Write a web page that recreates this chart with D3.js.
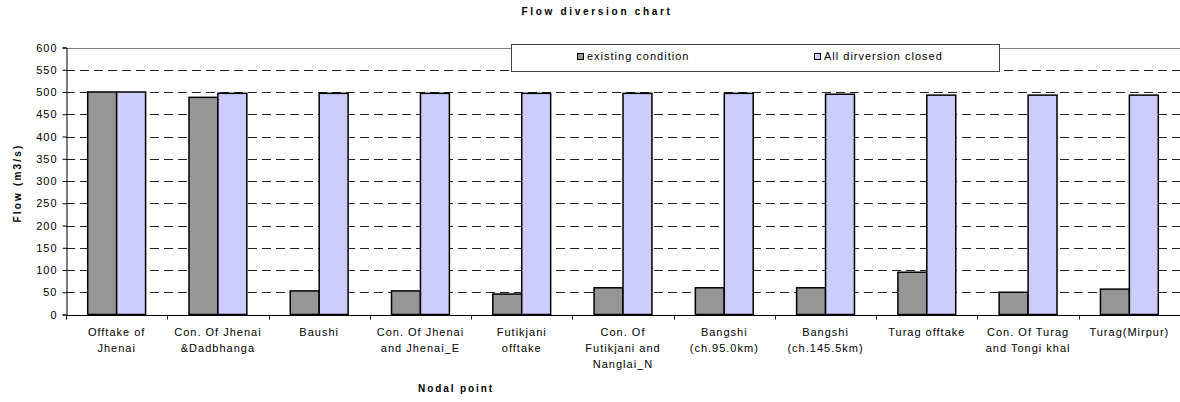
<!DOCTYPE html>
<html>
<head>
<meta charset="utf-8">
<script src="https://cdn.jsdelivr.net/npm/d3@7"></script>
<style>
  body { margin: 0; background: #fff; }
  svg { display: block; font-family: "Liberation Sans", Arial, sans-serif; }
</style>
</head>
<body>
<svg id="chart" width="1180" height="402"></svg>
<script>
// categories, one entry per line of the wrapped tick label
var nodes = [
  ["Offtake of", "Jhenai"],
  ["Con. Of Jhenai", "&Dadbhanga"],
  ["Baushi"],
  ["Con. Of Jhenai", "and Jhenai_E"],
  ["Futikjani", "offtake"],
  ["Con. Of", "Futikjani and", "Nanglai_N"],
  ["Bangshi", "(ch.95.0km)"],
  ["Bangshi", "(ch.145.5km)"],
  ["Turag offtake"],
  ["Con. Of Turag", "and Tongi khal"],
  ["Turag(Mirpur)"]
];
var seriesNames = ["existing condition", "All dirversion closed"];
var existing = [500, 488, 53, 53, 46, 60, 60, 60, 95, 50, 57];
var allClosed = [500, 497, 497, 497, 497, 497, 497, 495, 493, 493, 493];
var yTicks = [0, 50, 100, 150, 200, 250, 300, 350, 400, 450, 500, 550, 600];

var colors = ["#969696", "#ccccff"];
var margin = { left: 66, right: 0, top: 47.5, bottom: 87 };
var W = 1180, H = 402;

var svg = d3.select("#chart");
var keys = nodes.map(function(d, i) { return i; });

var x = d3.scaleBand().domain(keys).range([margin.left, W - margin.right]).padding(0);
var x1 = d3.scaleBand().domain([0, 1]).range([0, x.bandwidth()])
  .paddingInner(0).paddingOuter(0.75);
var y = d3.scaleLinear().domain([0, 600]).range([H - margin.bottom - 0.5, margin.top]);

// gridlines
svg.append("g").selectAll("line")
  .data(yTicks.filter(function(t) { return t > 0; }))
  .enter().append("line")
    .attr("x1", margin.left).attr("x2", W)
    .attr("y1", function(d) { return Math.round(y(d)) + 0.5; })
    .attr("y2", function(d) { return Math.round(y(d)) + 0.5; })
    .attr("stroke", function(d) { return d === 600 ? "#808080" : "#222"; })
    .attr("stroke-dasharray", function(d) { return d === 600 ? null : "9,5"; });

// bars
var rows = keys.map(function(i) { return [existing[i], allClosed[i]]; });
svg.append("g").selectAll("g")
  .data(rows)
  .enter().append("g")
    .attr("transform", function(d, i) { return "translate(" + x(i) + ",0)"; })
  .selectAll("rect")
  .data(function(d) { return d; })
  .enter().append("rect")
    .attr("x", function(d, j) { return x1(j); })
    .attr("width", x1.bandwidth())
    .attr("y", function(d) { return y(d); })
    .attr("height", function(d) { return y(0) - y(d); })
    .attr("fill", function(d, j) { return colors[j]; })
    .attr("stroke", "#000")
    .attr("stroke-width", 1.5);

// y axis
var yAxis = d3.axisLeft(y).tickValues(yTicks).tickSize(4).tickPadding(5);
var gy = svg.append("g").attr("transform", "translate(" + (margin.left + 0.5) + ",0)").call(yAxis);
gy.selectAll("text").attr("font-size", 11).attr("fill", "#000").attr("letter-spacing", 1)
  .attr("font-family", "Liberation Sans, Arial, sans-serif");
gy.selectAll("line, path").attr("stroke", "#000");

// x axis with category boundary ticks
var bottom = Math.round(y(0)) + 0.5;
var gx = svg.append("g");
gx.append("line").attr("x1", margin.left).attr("x2", W)
  .attr("y1", bottom).attr("y2", bottom).attr("stroke", "#000");
gx.selectAll("line.tick").data(keys.concat([keys.length]))
  .enter().append("line").attr("class", "tick")
    .attr("x1", function(i) { return Math.round(margin.left + i * x.step()) + 0.5; })
    .attr("x2", function(i) { return Math.round(margin.left + i * x.step()) + 0.5; })
    .attr("y1", bottom).attr("y2", bottom + 4)
    .attr("stroke", "#000");
gx.selectAll("text.cat").data(nodes)
  .enter().append("text").attr("class", "cat")
    .attr("font-size", 11)
    .attr("letter-spacing", 1)
    .attr("text-anchor", "middle")
    .attr("x", function(d, i) { return x(i) + x.bandwidth() / 2; })
    .attr("y", 336)
  .selectAll("tspan").data(function(d) { return d; })
  .enter().append("tspan")
    .attr("x", function() { return d3.select(this.parentNode).attr("x"); })
    .attr("dy", function(d, k) { return k ? 16 : 0; })
    .text(function(d) { return d; });

// titles
svg.append("text").attr("x", 597).attr("y", 15)
  .attr("text-anchor", "middle").attr("font-size", 10).attr("font-weight", "bold")
  .attr("letter-spacing", 2.7).text("Flow diversion chart");
svg.append("text").attr("x", 456).attr("y", 392)
  .attr("text-anchor", "middle").attr("font-size", 10).attr("font-weight", "bold")
  .attr("letter-spacing", 1.9).text("Nodal point");
svg.append("text").attr("transform", "translate(21,183) rotate(-90)")
  .attr("text-anchor", "middle").attr("font-size", 10).attr("font-weight", "bold")
  .attr("letter-spacing", 2.2).text("Flow (m3/s)");

// legend
var lg = svg.append("g");
lg.append("rect").attr("x", 511.5).attr("y", 44.5).attr("width", 488).attr("height", 27)
  .attr("fill", "#fff").attr("stroke", "#444");
var legendX = [577, 814];
seriesNames.forEach(function(name, j) {
  lg.append("rect").attr("x", legendX[j] + 0.5).attr("y", 53.5).attr("width", 6).attr("height", 6)
    .attr("fill", colors[j]).attr("stroke", "#000");
  lg.append("text").attr("x", legendX[j] + 10).attr("y", 60)
    .attr("font-size", 11).attr("letter-spacing", 1).text(name);
});
</script>
</body>
</html>
